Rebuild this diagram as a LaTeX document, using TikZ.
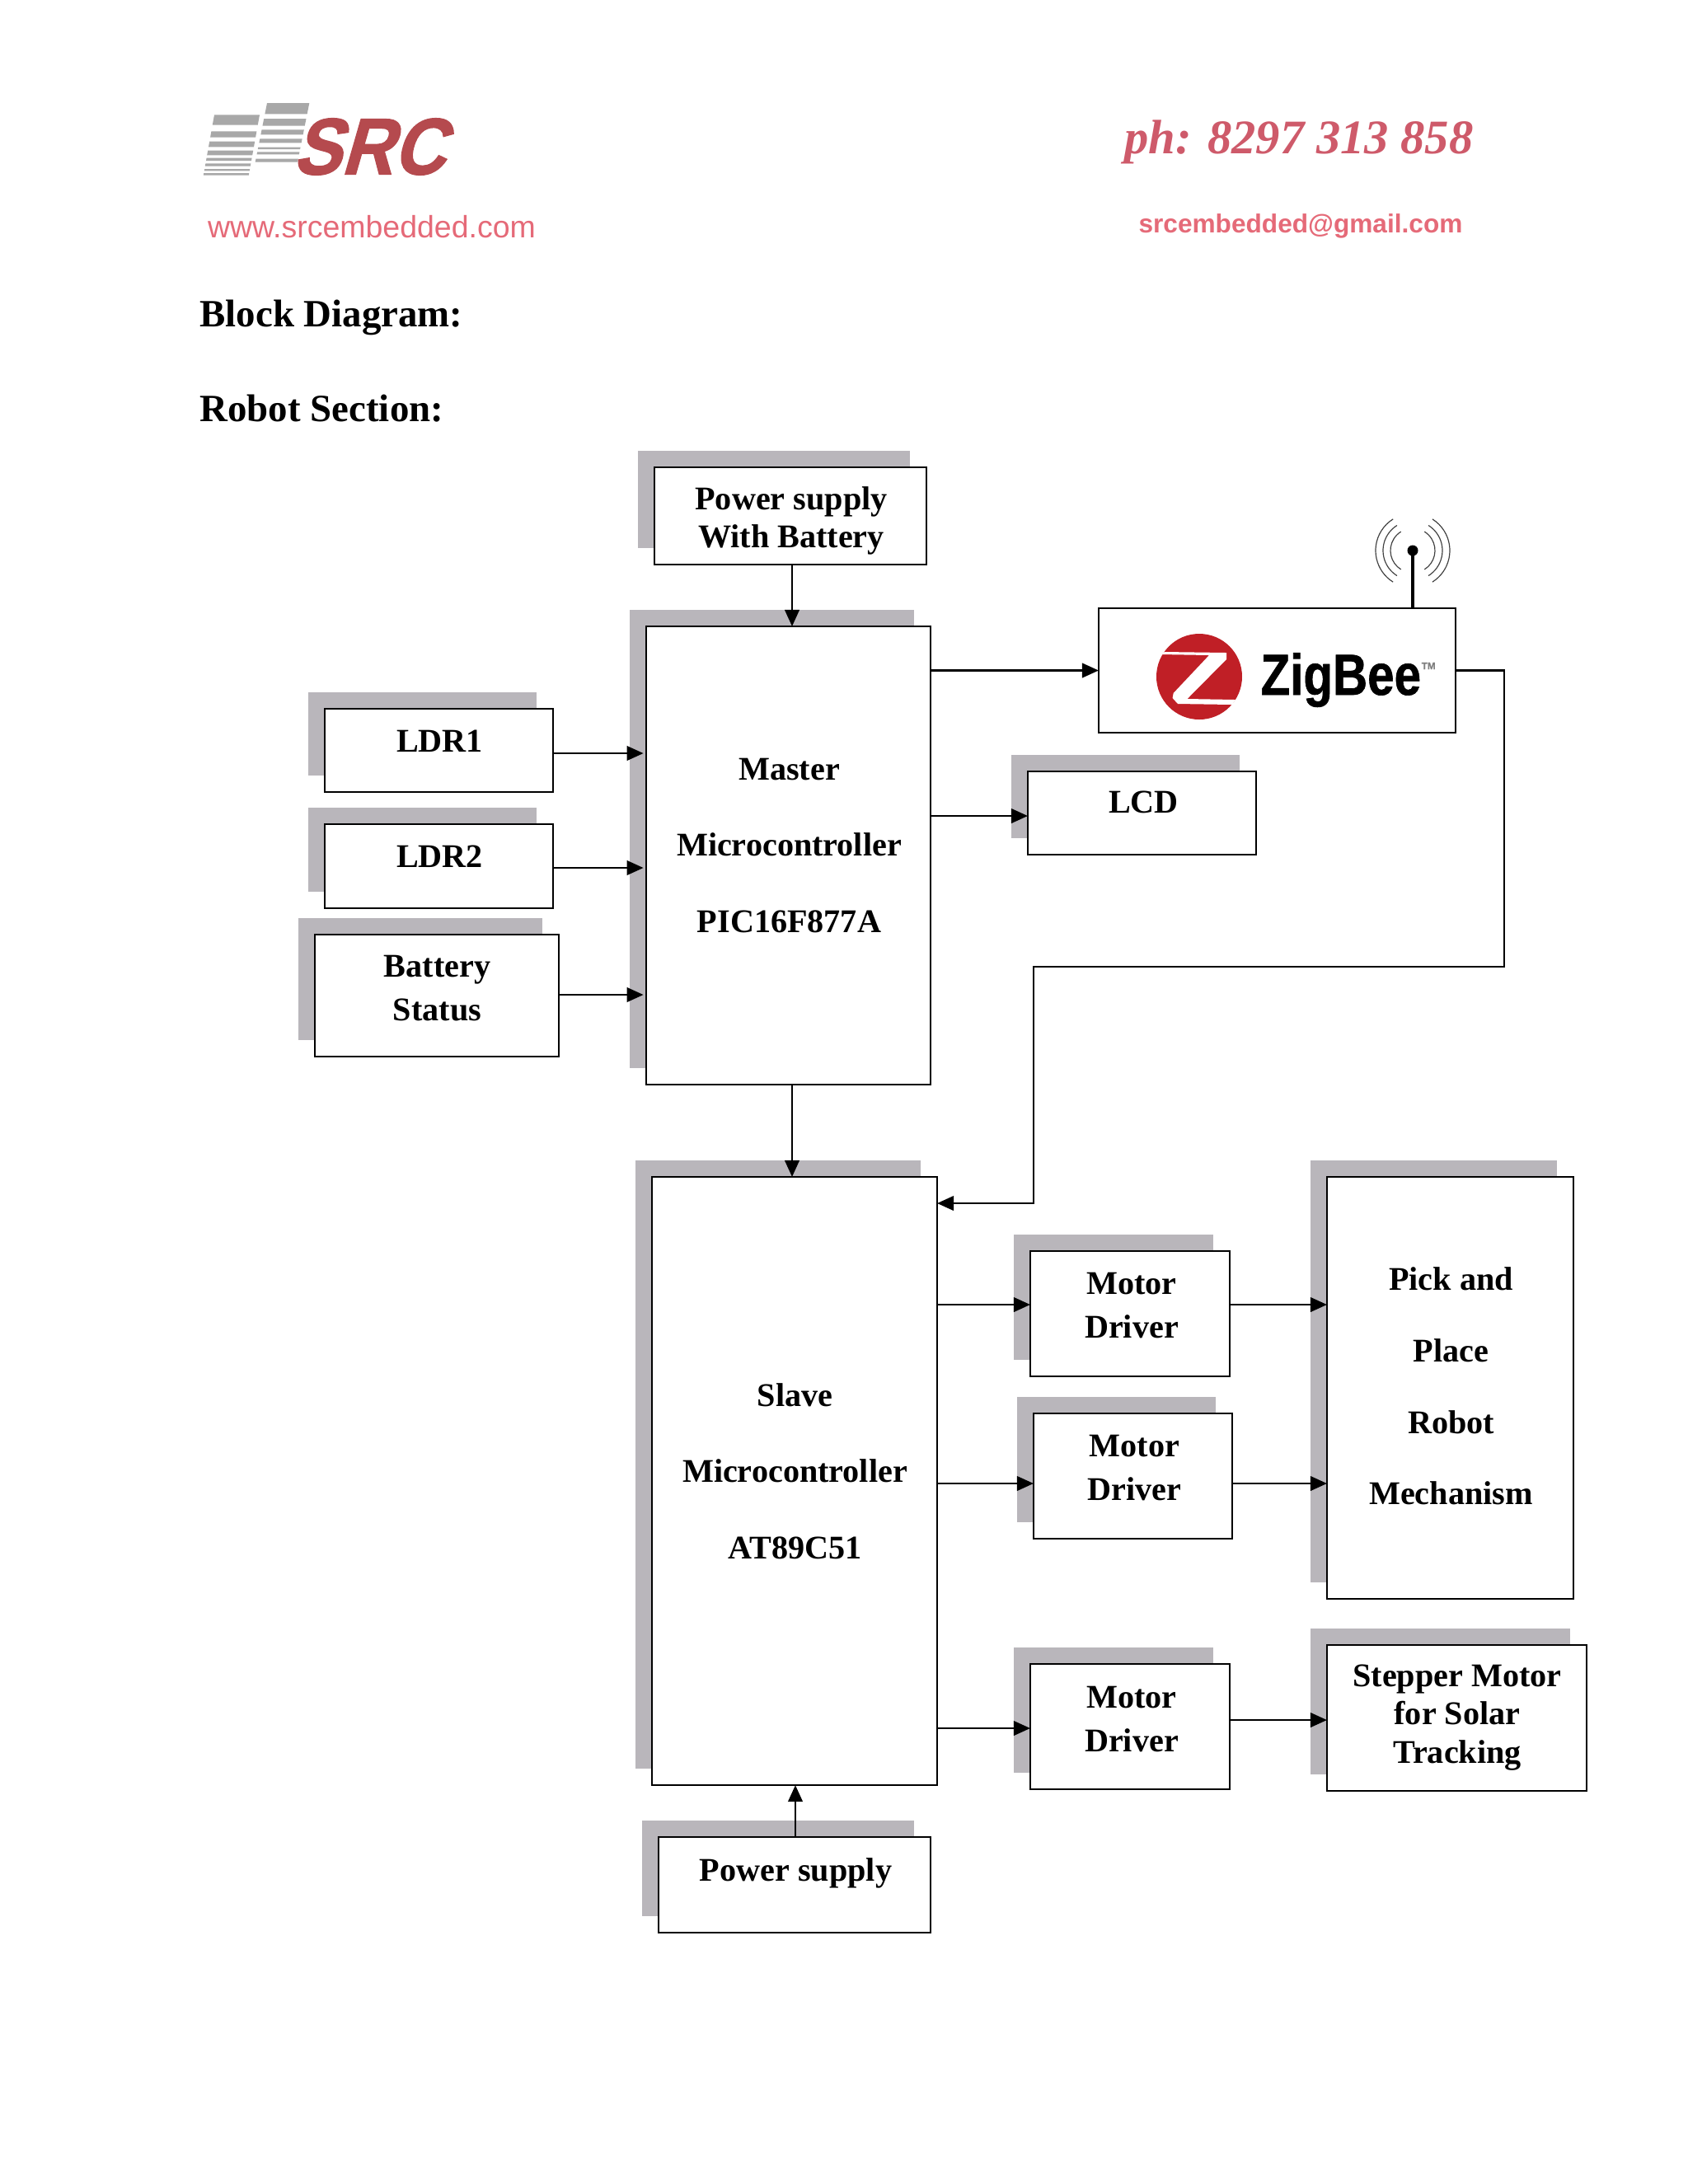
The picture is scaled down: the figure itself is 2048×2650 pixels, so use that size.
\documentclass[tikz,border=0pt]{standalone}
\usepackage{fontspec}
\setmainfont{Liberation Serif}
\newfontfamily\arialf{Liberation Sans}
\newfontfamily\srcf[UprightFont={* Bold},FakeSlant=0.32,FakeBold=1.5]{Liberation Sans}
\newfontfamily\zigf[UprightFont={* Bold},FakeBold=1]{Liberation Sans}
\usetikzlibrary{arrows.meta}
\definecolor{shadegray}{HTML}{B9B6BB}
\definecolor{logogray}{HTML}{A8A8A8}
\definecolor{logored}{HTML}{B54A4E}
\definecolor{linkred}{HTML}{E56A78}
\definecolor{phred}{HTML}{CE5A6A}
\definecolor{zigred}{HTML}{C01F26}
\tikzset{
  shadebox/.style={fill=shadegray,draw=none,inner sep=0pt,outer sep=0pt},
  mainbox/.style={fill=white,draw=black,line width=0.8pt,inner sep=0pt,outer sep=0pt},
  lbl/.style={font=\bfseries\fontsize{12}{#1}\selectfont,align=center,inner sep=0pt},
  heading/.style={font=\bfseries\fontsize{14}{16}\selectfont,anchor=west,inner sep=0pt},
  arr/.style={line width=0.85pt,-{Triangle[length=6pt,width=5.2pt]}},
}
\newcommand{\bx}[5]{%
  \node[shadebox,minimum width={(#4-#2)*0.2988pt},minimum height={(#5-#3)*0.2988pt}] (#1s) at ({(#2+#4)/2-20},{(#3+#5)/2-20}) {};
  \node[mainbox,minimum width={(#4-#2)*0.2988pt},minimum height={(#5-#3)*0.2988pt}] (#1) at ({(#2+#4)/2},{(#3+#5)/2}) {};}
\begin{document}
\begin{tikzpicture}[x=0.2988pt,y=-0.2988pt]
\useasboundingbox (0,0) rectangle (2048,2650);
% logo strips
\foreach \a/\b in {118/155,178/200,215/235,248/265,275/285,295/305,315/322,330/338}
  \fill[logogray] ({220+(120-(\a-118)*.18)/3},{100+\a/3}) -- ({220+(285-(\a-118)*.18)/3},{100+\a/3}) -- ({220+(285-(\b-118)*.18)/3},{100+\b/3}) -- ({220+(120-(\b-118)*.18)/3},{100+\b/3}) -- cycle;
\foreach \a/\b in {75/115,132/158,172/190,205/220,236/243,253/262,278/290}
  \fill[logogray] ({220+(312-(\a-75)*.2)/3},{100+\a/3}) -- ({220+(466-(\a-75)*.2)/3},{100+\a/3}) -- ({220+(466-(\b-75)*.2)/3},{100+\b/3}) -- ({220+(312-(\b-75)*.2)/3},{100+\b/3}) -- cycle;
\node[inner sep=0pt,anchor=center,font=\srcf\fontsize{29}{30}\selectfont,text=logored,xscale=0.9] (src) at (447,178) {SRC};
\node[inner sep=0pt,font=\arialf\fontsize{11.2}{14}\selectfont,text=linkred] (web) at (451,275) {www.srcembedded.com};
\node[inner sep=0pt,font=\bfseries\itshape\fontsize{17.5}{20}\selectfont,text=phred] (phone) at (1576,172) {ph: 8297 313 858};
\node[inner sep=0pt,font=\arialf\bfseries\fontsize{9.45}{12}\selectfont,text=linkred] (mail) at (1578,274) {srcembedded@gmail.com};
\node[heading] (h1) at (242,385) {Block Diagram:};
\node[heading] (h2) at (242,496) {Robot Section:};
% boxes
\bx{ptop}{794}{567}{1124}{685}
\bx{master}{784}{760}{1129}{1316}
\bx{lcd}{1247}{936}{1524}{1037}
\bx{ldra}{394}{860}{671}{961}
\bx{ldrb}{394}{1000}{671}{1102}
\bx{batt}{382}{1134}{678}{1282}
\bx{slave}{791}{1428}{1137}{2166}
\bx{mda}{1250}{1518}{1492}{1670}
\bx{mdb}{1254}{1715}{1495}{1867}
\bx{mdc}{1250}{2019}{1492}{2171}
\bx{pick}{1610}{1428}{1909}{1940}
\bx{stp}{1610}{1996}{1925}{2173}
\bx{pbot}{799}{2229}{1129}{2345}
\node[mainbox,minimum width={433*0.2988pt},minimum height={151*0.2988pt}] (zig) at (1549.5,813.5) {};
% labels
\node[lbl=13.8pt] (t1) at (960,632) {Power supply\\With Battery};
\node[lbl=27.7pt] (t2) at (957.5,1026) {Master\\Microcontroller\\PIC16F877A};
\node[lbl=14pt] (t3) at (533.5,899) {LDR1};
\node[lbl=14pt] (t4) at (533.5,1039) {LDR2};
\node[lbl=14pt] (t5) at (1387.5,973) {LCD};
\node[lbl=15.6pt] (t6) at (530.5,1199) {Battery\\Status};
\node[lbl=27.7pt] (t7) at (964.5,1785) {Slave\\Microcontroller\\AT89C51};
\node[lbl=16pt] (t8) at (1373,1584) {Motor\\Driver};
\node[lbl=16pt] (t9) at (1376.5,1781) {Motor\\Driver};
\node[lbl=16pt] (t10) at (1373,2086) {Motor\\Driver};
\node[lbl=25.9pt] (t11) at (1760.5,1682) {Pick and\\Place\\Robot\\Mechanism};
\node[lbl=13.8pt] (t12) at (1768,2084) {Stepper Motor\\for Solar\\Tracking};
\node[lbl=14pt] (t13) at (965.5,2273) {Power supply};
% zigbee logo
\fill[zigred] (1455,821) ellipse [x radius=52,y radius=52];
\fill[white] (1413,791) -- (1488,792) -- (1488,800) -- (1440.5,848) -- (1499,849) -- (1495,855) -- (1429,854) -- (1422.6,847) -- (1423.7,841) -- (1467,795) -- (1409,794) -- cycle;
\node[inner sep=0pt,anchor=west,font=\zigf\fontsize{21}{23}\selectfont,xscale=0.83] (zt) at (1529,825) {ZigBee};
\node[inner sep=0pt,anchor=west,font=\zigf\fontsize{3.5}{4}\selectfont,text=gray] (tm) at (1724,808) {TM};
% antenna
\coordinate (ant) at (1714,668);
\draw[line width=1.3pt] (ant) -- (ant |- zig.north);
\fill (ant) circle [radius=6.5];
\foreach \r/\g in {45/58,36/58,27/58}{
  \draw[line width=0.35pt,black!75] (ant) ++(\g:\r) arc[start angle=\g,end angle=-\g,radius=\r];
  \draw[line width=0.35pt,black!75] (ant) ++(180-\g:\r) arc[start angle=180-\g,end angle=180+\g,radius=\r];
}
% connectors
\draw[arr] (ptop.south -| 961,0) -- (master.north -| 961,0);
\draw[arr] (master.south -| 961,0) -- (slave.north -| 961,0);
\draw[arr] (pbot.north -| 965,0) -- (slave.south -| 965,0);
\draw[arr] (ldra.east |- 0,914) -- ([xshift=-1pt]master.west |- 0,914);
\draw[arr] (ldrb.east |- 0,1053) -- ([xshift=-1pt]master.west |- 0,1053);
\draw[arr] (batt.east |- 0,1207) -- ([xshift=-1pt]master.west |- 0,1207);
\draw[arr] (master.east |- zig.west) -- (zig.west);
\draw[arr] (master.east |- 0,990) -- (lcd.west |- 0,990);
\draw[arr] (zig.east) -- (1825,813.5) -- (1825,1173) -- (1254,1173) -- (1254,1460) -- (slave.east |- 0,1460);
\draw[arr] (slave.east |- 0,1583) -- (mda.west |- 0,1583);
\draw[arr] (slave.east |- 0,1800) -- (mdb.west |- 0,1800);
\draw[arr] (slave.east |- 0,2097) -- (mdc.west |- 0,2097);
\draw[arr] (mda.east |- 0,1583) -- (pick.west |- 0,1583);
\draw[arr] (mdb.east |- 0,1800) -- (pick.west |- 0,1800);
\draw[arr] (mdc.east |- 0,2087) -- (stp.west |- 0,2087);
\end{tikzpicture}
\end{document}
